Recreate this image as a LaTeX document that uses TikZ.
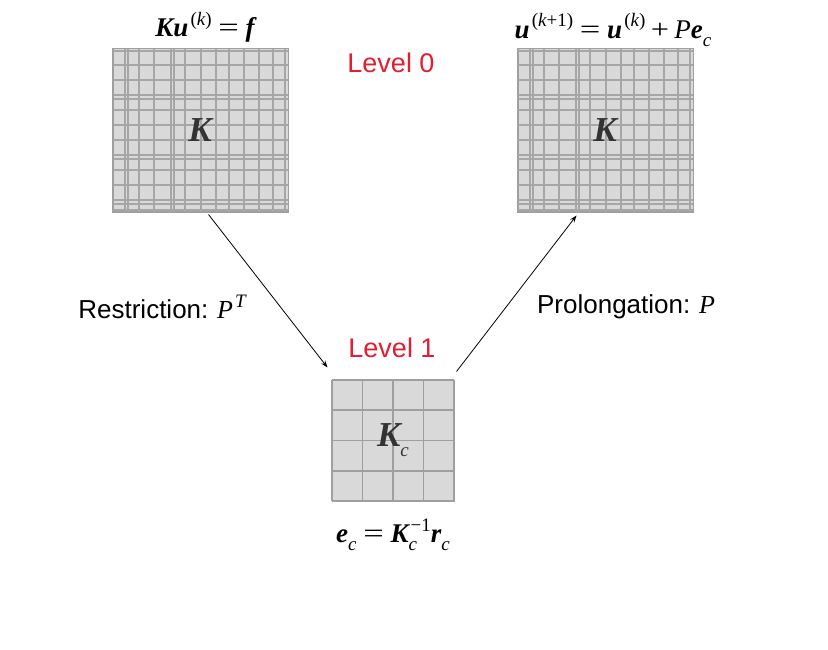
\documentclass[tikz,border=0pt]{standalone}
\usepackage{fontspec}
\setmainfont{Liberation Serif}
\newfontfamily\hel{Liberation Sans}
\usetikzlibrary{arrows.meta}
\definecolor{lvred}{RGB}{226,30,48}
\newcommand\bi[1]{{\bfseries\itshape #1}}
\newcommand\ri[1]{{\itshape #1}}
\newcommand\sps[1]{\hspace{0.08em}\raisebox{0.42em}{\fontsize{19}{21}\selectfont #1}}
\newcommand\sbs[1]{\raisebox{-0.3em}{\fontsize{19}{21}\selectfont #1}}
\newcommand\eqs{\hspace{0.25em}\scalebox{1.35}[1]{=}\hspace{0.25em}}
\newcommand\pls{\hspace{0.2em}\scalebox{1.2}[1]{+}\hspace{0.2em}}
\tikzset{
  gridbox/.style={draw=gray!75, line width=1pt, fill=black!15, inner sep=0pt},
  gridline/.style={draw=gray!70, line width=1.1pt},
  coarseline/.style={draw=gray!75, line width=1.6pt},
  eqlabel/.style={font=\fontsize{27}{30}\selectfont, inner sep=0pt},
  lvlabel/.style={font=\hel\fontsize{27}{30}\selectfont, text=lvred, inner sep=0pt},
  oplabel/.style={font=\fontsize{26}{30}\selectfont, inner sep=0pt},
  matlabel/.style={font=\fontsize{35}{40}\selectfont, text=black!80, inner sep=0pt},
  conn/.style={-{Stealth[length=7pt,width=5pt]}, line width=0.8pt}
}
\newcommand\finegrid[2]{%
  \begin{scope}[shift={(#1,#2)}]
    \foreach \x in {12,15,26,41,58,61,72,88,103,116,131,146,160,172}
      \draw[gridline] (\x,0) -- (\x,163);
    \foreach \y in {2,16,31,46,50,61,76,91,106,110,121,136,151,155,161}
      \draw[gridline] (0,\y) -- (175,\y);
  \end{scope}}
\begin{document}
\begin{tikzpicture}[x=1pt,y=-1pt]
\path[use as bounding box, fill=white] (0,0) rectangle (828,650);

% top-left grid
\node[gridbox, minimum width=175pt, minimum height=163pt] (gl) at (200.5,130.5) {};
\finegrid{113}{49}
\draw[draw=gray!75, line width=1pt] (gl.south west) rectangle (gl.north east);
\node[matlabel] (kl) at (200,130) {\bi{K}};

% top-right grid
\node[gridbox, minimum width=175pt, minimum height=163pt] (gr) at (605.5,130.5) {};
\finegrid{518}{49}
\draw[draw=gray!75, line width=1pt] (gr.south west) rectangle (gr.north east);
\node[matlabel] (kr) at (605,130) {\bi{K}};

% coarse grid
\node[gridbox, minimum width=122pt, minimum height=121pt] (gc) at (393,440.5) {};
\begin{scope}[shift={(332,380)}]
  \foreach \i in {0,1,2,3,4} {
    \draw[coarseline] (\i*30.5,0) -- (\i*30.5,121);
    \draw[coarseline] (0,\i*30.25) -- (122,\i*30.25);
  }
\end{scope}
\node[matlabel] (kc) at (393,440) {\bi{K}\sbs{\ri{c}}};

% labels
\node[eqlabel] (eq0) at (205,27) {\bi{Ku}\sps{(\ri{k})}\eqs\bi{f}};
\node[eqlabel] (eq2) at (613,30) {\bi{u}\sps{(\ri{k}+1)}\eqs\bi{u}\sps{(\ri{k})}\pls\ri{P}\bi{e}\sbs{\ri{c}}};
\node[eqlabel] (eq1) at (393,535) {\bi{e}\sbs{\ri{c}}\eqs\bi{K}\rlap{\sbs{\ri{c}}}\sps{−1}\bi{r}\sbs{\ri{c}}};
\node[lvlabel] (lv0) at (391,63) {Level 0};
\node[lvlabel] (lv1) at (392,348) {Level 1};
\node[oplabel] (rs) at (162,307) {{\hel Restriction:} \ri{P}\sps{\ri{T}}};
\node[oplabel] (pl) at (626,307) {{\hel Prolongation:} \ri{P}};

% connectors
\draw[conn] ([xshift=8pt,yshift=-2pt]gl.south) -- ([xshift=-4pt,yshift=12pt]gc.north west);
\draw[conn] ([xshift=2pt,yshift=8pt]gc.north east) -- ([xshift=-29pt,yshift=-3pt]gr.south);
\end{tikzpicture}
\end{document}
